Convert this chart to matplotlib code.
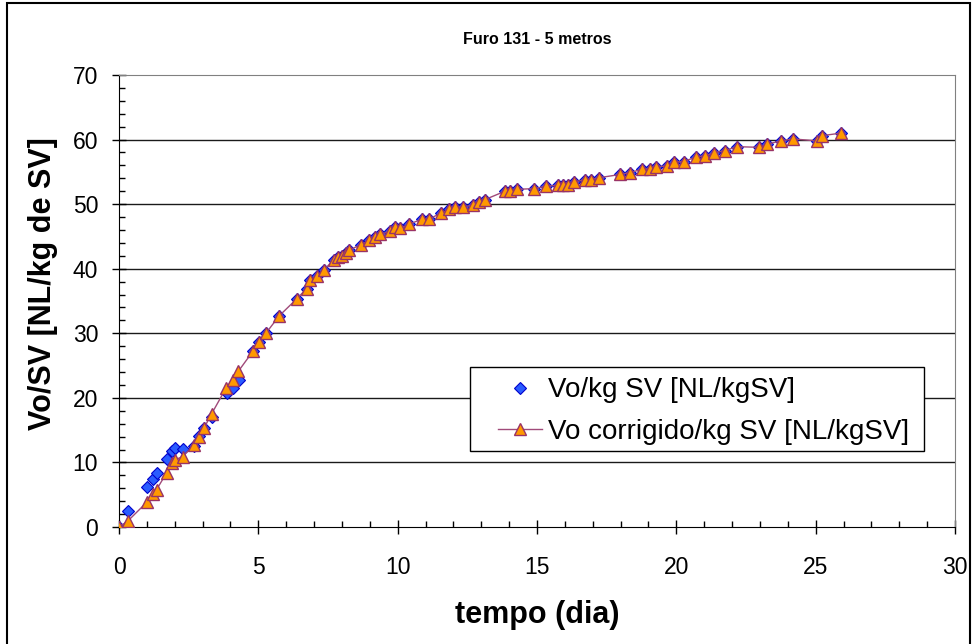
import matplotlib.pyplot as plt
from matplotlib.patches import Rectangle
from matplotlib.ticker import MultipleLocator

plt.rcParams['font.family'] = ['Liberation Sans', 'DejaVu Sans']

# Dados corrigidos (tempo em dias, Vo/SV)
t_corr = [0, 0.31, 0.99, 1.23, 1.35, 1.71, 1.89, 2.01, 2.28, 2.70, 2.88, 3.06,
          3.32, 3.84, 4.08, 4.28, 4.82, 5.03, 5.27, 5.75, 6.37, 6.73, 6.85,
          7.11, 7.35, 7.71, 7.87, 7.99, 8.14, 8.26, 8.68, 8.98, 9.18, 9.36,
          9.72, 9.90, 10.10, 10.41, 10.89, 11.13, 11.55, 11.85, 12.06, 12.33,
          12.71, 12.93, 13.13, 13.85, 14.03, 14.30, 14.90, 15.34, 15.74, 15.94,
          16.12, 16.33, 16.72, 16.94, 17.24, 17.99, 18.35, 18.77, 19.07, 19.27,
          19.66, 19.93, 20.26, 20.71, 21.04, 21.34, 21.74, 22.18, 22.97, 23.27,
          23.77, 24.19, 25.03, 25.23, 25.90]
v_corr = [0, 0.9, 3.8, 5.1, 5.8, 8.4, 9.9, 10.4, 10.9, 12.7, 14.0, 15.4,
          17.5, 21.5, 22.8, 24.1, 27.3, 28.6, 30.0, 32.7, 35.3, 36.9, 38.2,
          38.9, 39.8, 41.4, 41.8, 42.0, 42.4, 42.9, 43.7, 44.4, 44.9, 45.3,
          45.8, 46.4, 46.3, 46.9, 47.7, 47.7, 48.6, 49.2, 49.5, 49.6,
          49.8, 50.4, 50.7, 52.0, 52.0, 52.3, 52.4, 52.8, 52.9, 52.9,
          53.0, 53.4, 53.8, 53.8, 54.1, 54.6, 54.9, 55.4, 55.5, 55.8,
          55.9, 56.5, 56.6, 57.3, 57.5, 57.9, 58.3, 58.9, 58.8, 59.3,
          59.8, 60.1, 59.8, 60.6, 61.0]

# Dados originais: diferentes no inicio, iguais depois de ~4.8 dias
t_raw_ini = [0, 0.33, 0.99, 1.23, 1.37, 1.71, 1.89, 2.01, 2.30, 2.70, 2.88,
             3.06, 3.32, 3.86, 4.10, 4.32]
v_raw_ini = [0, 2.5, 6.2, 7.4, 8.3, 10.5, 11.7, 12.2, 12.1, 12.5, 14.1,
             15.4, 17.0, 20.8, 21.5, 22.8]
n_ini = 16
t_raw = t_raw_ini + t_corr[n_ini:]
v_raw = v_raw_ini + v_corr[n_ini:]

fig = plt.figure(figsize=(9.73, 6.44), dpi=100)
ax = fig.add_axes([119/973, 1 - 527/644, 836/973, 452/644])

ax.plot(t_raw, v_raw, linestyle='none', marker='D', markersize=6,
        markerfacecolor='#2a5cff', markeredgecolor='#0000cc',
        markeredgewidth=0.8, label='Vo/kg SV [NL/kgSV]', zorder=3)
ax.plot(t_corr, v_corr, color='#a04a7a', linewidth=1, marker='^',
        markersize=8.5, markerfacecolor='#ff9900', markeredgecolor='#993366',
        markeredgewidth=1, label='Vo corrigido/kg SV [NL/kgSV]', zorder=4)

ax.set_xlim(0, 30)
ax.set_ylim(0, 70)
ax.xaxis.set_major_locator(MultipleLocator(5))
ax.xaxis.set_minor_locator(MultipleLocator(1))
ax.yaxis.set_major_locator(MultipleLocator(10))
ax.yaxis.set_minor_locator(MultipleLocator(2))
ax.tick_params(which='major', direction='inout', length=10, width=1,
               labelsize=16.5)
ax.tick_params(axis='x', which='major', pad=16)
ax.tick_params(axis='y', which='major', pad=10)
ax.tick_params(which='minor', direction='in', length=4, width=1)

for y in range(10, 70, 10):
    ax.axhline(y, color='#1a1a1a', linewidth=1, zorder=1)

ax.spines['top'].set_color('#808080')
ax.spines['right'].set_color('#808080')
ax.spines['left'].set_color('black')
ax.spines['bottom'].set_color('black')

ax.set_xlabel('tempo (dia)', fontsize=22, fontweight='bold', va='center')
ax.set_ylabel('Vo/SV [NL/kg de SV]', fontsize=22, fontweight='bold',
              va='center')
ax.xaxis.set_label_coords(0.5, (527 - 615) / 452)
ax.yaxis.set_label_coords((43 - 119) / 836, (527 - 284) / 452)

fig.text(537/973, 1 - 40/644, 'Furo 131 - 5 metros', fontsize=11.5,
         fontweight='bold', ha='center', va='center')

# caixa da legenda
ax.add_patch(Rectangle((0.4199, 0.1681), 0.543, 0.1858, transform=ax.transAxes,
                       facecolor='white', edgecolor='black', linewidth=1,
                       zorder=5))
leg = ax.legend(loc='center left',
                bbox_to_anchor=((498 - 119) / 836, (527 - 411) / 452),
                borderaxespad=0, borderpad=0, fontsize=20, frameon=False,
                handlelength=1.6, handletextpad=0.2, labelspacing=0.55)
leg.set_zorder(6)

fig.patches.append(Rectangle((7/973, -0.01), 963/973, 1.005, fill=False,
                             edgecolor='black', linewidth=1.5,
                             transform=fig.transFigure, figure=fig))

fig.savefig('out.png', dpi=100)
